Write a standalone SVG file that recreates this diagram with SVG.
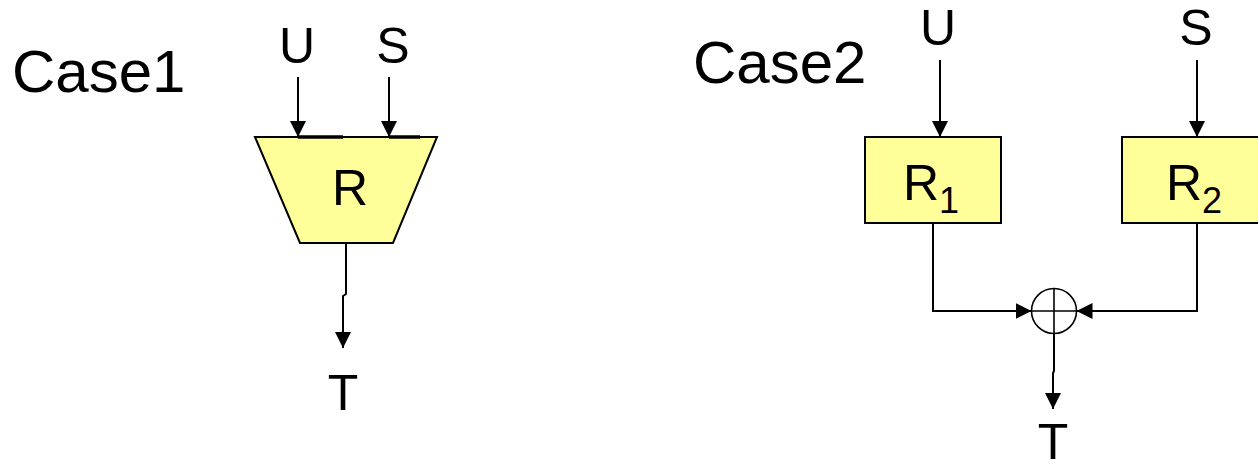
<svg xmlns="http://www.w3.org/2000/svg" width="1258" height="470" viewBox="0 0 1258 470">
  <style>
    .lbl { font-family: "Liberation Sans", Arial, sans-serif; fill: #000; }
    .title { font-size: 60px; }
    .sig { font-size: 50px; text-anchor: middle; }
    .blk { fill: #FFFF99; stroke: #000; stroke-width: 2; }
    .wire { fill: none; stroke: #000; stroke-width: 2; }
  </style>
  <defs>
    <marker id="arrow" viewBox="0 0 16 16" refX="16" refY="8" markerWidth="16" markerHeight="16" markerUnits="userSpaceOnUse" orient="auto">
      <path d="M0,0 L16,8 L0,16 z" fill="#000"/>
    </marker>
  </defs>

  <rect width="1258" height="470" fill="#fff"/>

  <!-- Case 1: single combined block -->
  <text class="lbl title" x="12" y="92">Case1</text>
  <text class="lbl sig" x="297" y="63">U</text>
  <text class="lbl sig" x="393" y="63">S</text>

  <g id="block-R">
    <polygon class="blk" points="255,137 437,137 393,243 300,243"/>
    <line x1="298" y1="137" x2="343" y2="137" stroke="#000" stroke-width="3.5"/>
    <line x1="389" y1="137" x2="420" y2="137" stroke="#000" stroke-width="3.5"/>
    <text class="lbl sig" x="350" y="205">R</text>
  </g>

  <text class="lbl sig" x="343" y="410">T</text>

  <!-- Case 2: two blocks merged by an adder -->
  <text class="lbl title" x="693" y="83">Case2</text>
  <text class="lbl sig" x="938" y="45">U</text>
  <text class="lbl sig" x="1196" y="45">S</text>

  <g id="block-R1">
    <rect class="blk" x="865" y="137" width="136" height="86"/>
    <text class="lbl" font-size="50" x="903" y="200">R<tspan font-size="36" dy="13">1</tspan></text>
  </g>

  <g id="block-R2">
    <rect class="blk" x="1122" y="137" width="140" height="86"/>
    <text class="lbl" font-size="50" x="1166" y="200">R<tspan font-size="36" dy="13">2</tspan></text>
  </g>

  <g id="adder">
    <circle cx="1054" cy="311" r="22.5" fill="#fff" stroke="#000" stroke-width="1.6"/>
    <line x1="1031.5" y1="311" x2="1076.5" y2="311" stroke="#000" stroke-width="1.6"/>
    <line x1="1054" y1="288.5" x2="1054" y2="333.5" stroke="#000" stroke-width="1.6"/>
  </g>

  <text class="lbl sig" x="1053" y="459">T</text>

  <g id="connectors">
    <!-- case 1 -->
    <line class="wire" x1="298" y1="77" x2="298" y2="137" marker-end="url(#arrow)"/>
    <line class="wire" x1="389" y1="77" x2="389" y2="137" marker-end="url(#arrow)"/>
    <polyline class="wire" points="346,243 346,294 343,296 343,348" marker-end="url(#arrow)"/>
    <!-- case 2 -->
    <line class="wire" x1="940" y1="60" x2="940" y2="137" marker-end="url(#arrow)"/>
    <line class="wire" x1="1197" y1="60" x2="1197" y2="137" marker-end="url(#arrow)"/>
    <polyline class="wire" points="933,223 933,311 1031.5,311" marker-end="url(#arrow)"/>
    <polyline class="wire" points="1197,223 1197,311 1076.5,311" marker-end="url(#arrow)"/>
    <polyline class="wire" points="1054,333.5 1054,371 1053,373 1053,409" marker-end="url(#arrow)"/>
  </g>
</svg>
